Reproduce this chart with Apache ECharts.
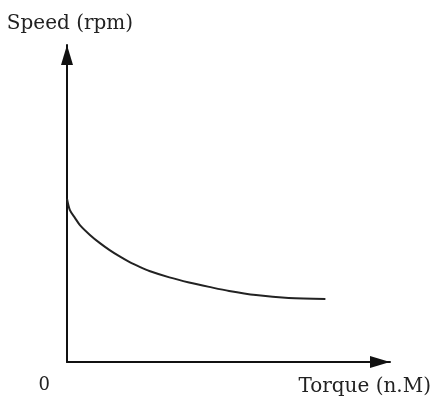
<!DOCTYPE html>
<html>
<head>
<meta charset="utf-8">
<script src="https://cdn.jsdelivr.net/npm/echarts@6/dist/echarts.min.js"></script>
<style>
html,body{margin:0;padding:0;background:#fff;}
#chart{width:434px;height:408px;}
</style>
</head>
<body>
<div id="chart"></div>
<script>
// Torque (relative units, 0-100) and speed (relative units, 0-100)
const torque = [0, 0.9, 2.5, 4.0, 7.1, 10.2, 13.2, 16.3, 19.4, 22.5, 25.5, 31.7, 37.8, 44.0, 50.2, 58.5, 68.6, 80.0];
const speed  = [51.5, 47.9, 45.4, 43.2, 40.1, 37.5, 35.3, 33.3, 31.5, 30.0, 28.7, 26.7, 25.1, 23.7, 22.4, 21.1, 20.2, 19.9];
const xAxisName = 'Torque (n.M)';
const yAxisName = 'Speed (rpm)';
const originLabel = '0';

const chart = echarts.init(document.getElementById('chart'));
chart.setOption({
  animation: false,
  backgroundColor: '#fff',
  grid: {left: 67, right: 42, top: 45, bottom: 46},
  xAxis: {
    type: 'value', min: 0, max: 100, interval: 100,
    name: xAxisName, nameLocation: 'end', nameGap: 41,
    nameTextStyle: {fontFamily: 'DejaVu Serif', fontSize: 20, color: '#222', align: 'right', verticalAlign: 'top', padding: [15, 0, 0, 0]},
    axisLine: {show: true, lineStyle: {color: '#111', width: 2}, symbol: ['none', 'triangle'], symbolSize: [12, 20], symbolOffset: [0, -10]},
    axisTick: {show: false},
    splitLine: {show: false},
    axisLabel: {show: true, margin: 14, align: 'right', padding: [0, 17, 0, 0],
      fontFamily: 'DejaVu Serif', fontSize: 18, color: '#222',
      formatter: v => v === 0 ? originLabel : ''}
  },
  yAxis: {
    type: 'value', min: 0, max: 100, interval: 100,
    name: yAxisName, nameLocation: 'end', nameGap: 11,
    nameTextStyle: {fontFamily: 'DejaVu Serif', fontSize: 20, color: '#222', align: 'center', padding: [0, 0, 0, 6]},
    axisLine: {show: true, lineStyle: {color: '#111', width: 2}, symbol: ['none', 'triangle'], symbolSize: [12, 20], symbolOffset: [0, -10]},
    axisTick: {show: false},
    splitLine: {show: false},
    axisLabel: {show: false}
  },
  series: [{
    type: 'line',
    data: torque.map((t, i) => [t, speed[i]]),
    smooth: 0.3,
    showSymbol: false,
    lineStyle: {color: '#222', width: 2}
  }]
});
</script>
</body>
</html>
